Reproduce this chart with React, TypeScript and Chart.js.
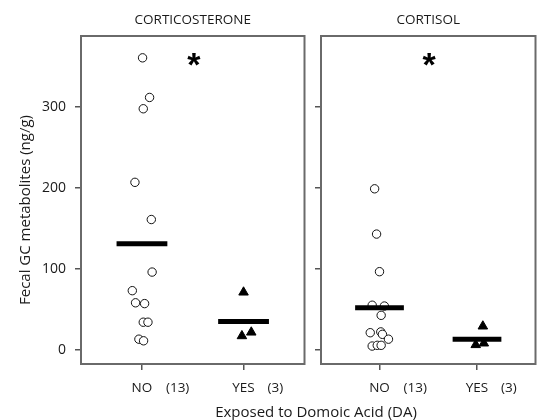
import React, { useEffect, useRef } from 'react';
import { Chart, registerables } from 'chart.js';

Chart.register(...registerables);

// ---- data ----
const groups = ['NO', 'YES'];
const groupCounts = ['(13)', '(3)'];
const yTicks = [0, 100, 200, 300];
const panelTitles = ['CORTICOSTERONE', 'CORTISOL'];
const yTitle = 'Fecal GC metabolites (ng/g)';
const xTitle = 'Exposed to Domoic Acid (DA)';

// Corticosterone (ng/g); x offsets = horizontal jitter in category units
const corticosteroneNo = [361, 312, 298, 207, 161, 96, 73, 58, 57, 34, 34, 13, 11];
const corticosteroneNoJitter = [0.006, 0.075, 0.013, -0.069, 0.092, 0.1, -0.095, -0.063, 0.026, 0.013, 0.059, -0.03, 0.016];
const corticosteroneYes = [71, 21.5, 17];
const corticosteroneYesJitter = [0.0, 0.076, -0.016];
const corticosteroneMedians = [131, 35];

// Cortisol (ng/g)
const cortisolNo = [199, 143, 96.5, 55, 54, 42.5, 21, 22, 19, 13, 4.5, 5.4, 5.4];
const cortisolNoJitter = [-0.05, -0.03, 0.0, -0.075, 0.05, 0.017, -0.095, 0.013, 0.03, 0.092, -0.075, -0.023, 0.017];
const cortisolYes = [29, 6, 8];
const cortisolYesJitter = [0.06, -0.013, 0.07];
const cortisolMedians = [52, 13];

const significanceY = 362;
const significanceX = 0.51;

// ---- styling constants ----
const FONT = "'Open Sans', sans-serif";
const MEDIAN_HALF = 0.25;
const X_MIN = -0.6;
const X_MAX = 1.6;
const Y_MIN = -17.7;
const Y_MAX = 388;
const BOX_COLOR = '#6a6a6a';
const TEXT_COLOR = '#1a1a1a';

type PanelData = {
  title: string;
  no: number[];
  noJitter: number[];
  yes: number[];
  yesJitter: number[];
  medians: number[];
};

const panels: PanelData[] = [
  { title: panelTitles[0], no: corticosteroneNo, noJitter: corticosteroneNoJitter, yes: corticosteroneYes, yesJitter: corticosteroneYesJitter, medians: corticosteroneMedians },
  { title: panelTitles[1], no: cortisolNo, noJitter: cortisolNoJitter, yes: cortisolYes, yesJitter: cortisolYesJitter, medians: cortisolMedians },
];

function makeDecorPlugin(title: string, isLeft: boolean) {
  return {
    id: 'panelDecor' + (isLeft ? 'L' : 'R'),
    afterDraw(chart: any) {
      const { ctx, chartArea: a, scales } = chart;
      ctx.save();
      // box
      ctx.strokeStyle = BOX_COLOR;
      ctx.lineWidth = 2;
      ctx.strokeRect(a.left, a.top, a.right - a.left, a.bottom - a.top);
      // panel title
      ctx.fillStyle = TEXT_COLOR;
      ctx.font = `13.5px ${FONT}`;
      ctx.textAlign = 'center';
      ctx.textBaseline = 'middle';
      ctx.fillText(title, (a.left + a.right) / 2, 20);
      // category labels
      ctx.font = `13.5px ${FONT}`;
      groups.forEach((g, i) => {
        const px = scales.x.getPixelForValue(i);
        ctx.textAlign = 'center';
        ctx.fillText(g, px, 388);
        ctx.textAlign = 'left';
        ctx.fillText(groupCounts[i], px + 24, 388);
      });
      // significance asterisk
      const size = 34;
      ctx.font = `bold ${size}px 'Liberation Sans', sans-serif`;
      ctx.textAlign = 'center';
      ctx.textBaseline = 'alphabetic';
      ctx.fillStyle = '#000';
      ctx.fillText('*', scales.x.getPixelForValue(significanceX), scales.y.getPixelForValue(significanceY) + size * 0.57);
      if (isLeft) {
        ctx.fillStyle = TEXT_COLOR;
        ctx.font = `15px ${FONT}`;
        ctx.textAlign = 'center';
        ctx.textBaseline = 'middle';
        ctx.fillText(xTitle, 316, 413);
        ctx.translate(26, 210);
        ctx.rotate(-Math.PI / 2);
        ctx.fillText(yTitle, 0, 0);
      }
      ctx.restore();
    },
  };
}

function buildConfig(p: PanelData, isLeft: boolean): any {
  const seg = (base: number, m: number) => [
    { x: base - MEDIAN_HALF, y: m },
    { x: base + MEDIAN_HALF, y: m },
  ];
  const pts = (base: number, vals: number[], jit: number[]) => vals.map((v, i) => ({ x: base + jit[i], y: v }));
  return {
    type: 'scatter',
    data: {
      datasets: [
        { data: seg(0, p.medians[0]), showLine: true, borderColor: '#000', borderWidth: 5, pointRadius: 0, borderCapStyle: 'butt' },
        { data: seg(1, p.medians[1]), showLine: true, borderColor: '#000', borderWidth: 5, pointRadius: 0, borderCapStyle: 'butt' },
        { data: pts(0, p.no, p.noJitter), pointStyle: 'circle', pointRadius: 4.2, backgroundColor: '#fff', borderColor: '#111', borderWidth: 1 },
        { data: pts(1, p.yes, p.yesJitter), pointStyle: 'triangle', pointRadius: 5.5, backgroundColor: '#000', borderColor: '#000', borderWidth: 1 },
      ],
    },
    options: {
      animation: false,
      responsive: false,
      events: [],
      layout: { padding: isLeft ? { left: 0, top: 36, right: 237.5, bottom: 50 } : { left: 0, top: 36, right: 0, bottom: 50 } },
      plugins: { legend: { display: false }, tooltip: { enabled: false }, title: { display: false } },
      scales: {
        x: {
          type: 'linear',
          min: X_MIN,
          max: X_MAX,
          afterBuildTicks: (s: any) => { s.ticks = groups.map((_, i) => ({ value: i })); },
          afterFit: (s: any) => { s.height = 6; },
          ticks: { display: false },
          grid: { drawOnChartArea: false, drawTicks: true, tickLength: 6, color: '#555', lineWidth: 1.5 },
          border: { display: false },
        },
        y: {
          type: 'linear',
          min: Y_MIN,
          max: Y_MAX,
          afterBuildTicks: (s: any) => { s.ticks = yTicks.map((v) => ({ value: v })); },
          afterFit: (s: any) => { s.width = isLeft ? 81 : 11; },
          ticks: { display: isLeft, padding: 9, color: TEXT_COLOR, font: { family: FONT, size: 14 } },
          grid: { drawOnChartArea: false, drawTicks: true, tickLength: 6, color: '#555', lineWidth: 1.5 },
          border: { display: false },
        },
      },
    },
    plugins: [makeDecorPlugin(p.title, isLeft)],
  };
}

function Panel({ p, isLeft, left, width }: { p: PanelData; isLeft: boolean; left: number; width: number }) {
  const ref = useRef<HTMLCanvasElement | null>(null);
  useEffect(() => {
    if (!ref.current) return;
    const chart = new Chart(ref.current, buildConfig(p, isLeft));
    return () => chart.destroy();
  }, [p, isLeft]);
  return (
    <canvas
      ref={ref}
      width={width}
      height={420}
      style={{ position: 'absolute', left, top: 0, width, height: 420 }}
    />
  );
}

export default function App() {
  return (
    <div style={{ position: 'absolute', left: 0, top: 0, width: 542, height: 420, background: '#fff', overflow: 'hidden' }}>
      <Panel p={panels[0]} isLeft={true} left={0} width={542} />
      <Panel p={panels[1]} isLeft={false} left={310} width={232} />
    </div>
  );
}
